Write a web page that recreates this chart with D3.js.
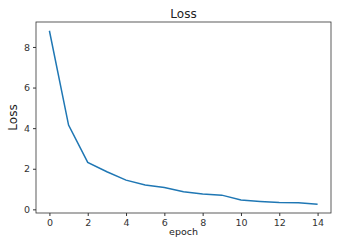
<!DOCTYPE html>
<html>
<head>
<meta charset="utf-8">
<script src="https://cdn.jsdelivr.net/npm/d3@7"></script>
<style>
  body { margin: 0; background: #fff; }
  svg { display: block; font-family: "DejaVu Sans", sans-serif; }
  .tick text { fill: #333; }
</style>
</head>
<body>
<div id="chart"></div>
<script>
// data
var epochs = [0, 1, 2, 3, 4, 5, 6, 7, 8, 9, 10, 11, 12, 13, 14];
var lossValues = [8.8, 4.15, 2.31, 1.85, 1.44, 1.2, 1.08, 0.87, 0.76, 0.7, 0.46, 0.39, 0.34, 0.33, 0.25];
var xTicks = [0, 2, 4, 6, 8, 10, 12, 14];
var yTicks = [0, 2, 4, 6, 8];

//************* dimensions ***************/
var margin = {left: 36, right: 24, top: 22, bottom: 34};
var width = 355 - margin.left - margin.right,
    height = 247 - margin.top - margin.bottom;

var svg = d3.select("#chart")
  .append("svg")
    .attr("width", 355)
    .attr("height", 247)
  .append("g")
    .attr("transform", "translate(" + margin.left + "," + margin.top + ")");

//************* scales ***************/
var x = d3.scaleLinear()
    .domain([-0.7, 14.7])
    .range([0, width]);

var y = d3.scaleLinear()
    .domain([-0.18, 9.23])
    .range([height, 0]);

//************* axes ***************/
var xAxis = d3.axisBottom(x).tickValues(xTicks).tickSize(3).tickPadding(3);
var gx = svg.append("g")
    .attr("transform", "translate(0," + height + ")")
    .call(xAxis);

var yAxis = d3.axisLeft(y).tickValues(yTicks).tickSize(3).tickPadding(3);
var gy = svg.append("g").call(yAxis);

[gx, gy].forEach(function(g) {
  g.select(".domain").remove();
  g.selectAll(".tick line").attr("stroke", "#333");
  g.selectAll(".tick text").attr("font-size", "9.5px").attr("font-family", "DejaVu Sans, sans-serif");
});

// frame
svg.append("rect")
    .attr("width", width)
    .attr("height", height)
    .attr("fill", "none")
    .attr("stroke", "#333")
    .attr("stroke-width", 0.8);

//************* line ***************/
var line = d3.line()
    .x(function(d, i) { return x(epochs[i]); })
    .y(function(d) { return y(d); });

svg.append("path")
    .datum(lossValues)
    .attr("fill", "none")
    .attr("stroke", "#1f77b4")
    .attr("stroke-width", 1.5)
    .attr("d", line);

//************* labels ***************/
svg.append("text")
    .attr("x", width / 2)
    .attr("y", -4)
    .attr("text-anchor", "middle")
    .attr("font-size", "12px")
    .attr("fill", "#222")
    .text("Loss");

svg.append("text")
    .attr("x", width / 2)
    .attr("y", height + 22)
    .attr("text-anchor", "middle")
    .attr("font-size", "9.5px")
    .attr("fill", "#222")
    .text("epoch");

svg.append("text")
    .attr("transform", "rotate(-90)")
    .attr("x", -height / 2)
    .attr("y", -19)
    .attr("text-anchor", "middle")
    .attr("font-size", "12px")
    .attr("fill", "#222")
    .text("Loss");
</script>
</body>
</html>
